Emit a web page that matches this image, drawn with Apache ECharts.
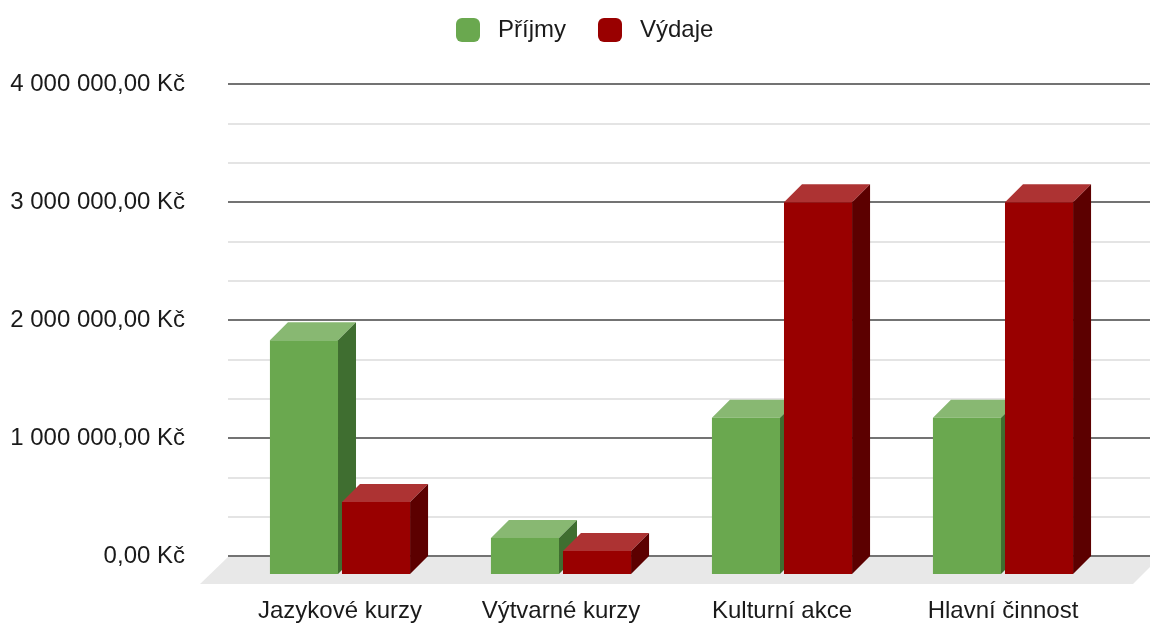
<!DOCTYPE html>
<html>
<head>
<meta charset="utf-8">
<script src="https://cdn.jsdelivr.net/npm/echarts@6/dist/echarts.min.js"></script>
<style>
  html, body { margin: 0; padding: 0; background: #fff; }
  #chart { width: 1150px; height: 624px; }
</style>
</head>
<body>
<div id="chart"></div>
<script>
// data
var categories = ['Jazykové kurzy', 'Výtvarné kurzy', 'Kulturní akce', 'Hlavní činnost'];
var prijmy = [1980000, 305000, 1325000, 1325000];
var vydaje = [610000, 195000, 3150000, 3150000];
var seriesNames = ['Příjmy', 'Výdaje'];

var FONT = '"Liberation Sans", Arial, sans-serif';
var DEPTH = 18; // 3d offset in px

// colours: front, top, side
var palette = [
  { front: '#6aa84f', top: '#88b872', side: '#3f6e30' },
  { front: '#990000', top: '#ad3333', side: '#5c0000' }
];

function fmtKc(v) {
  var s = Math.round(v).toString().replace(/\B(?=(\d{3})+(?!\d))/g, ' ');
  return s + ',00 Kč';
}

function makeRender(si) {
  return function (params, api) {
    var idx = api.value(0);
    var val = api.value(1);
    var top = api.coord([idx, val]);
    var base = api.coord([idx, 0]);
    var band = api.size([1, 0])[0];
    var w = band * 0.308;
    var gap = band * 0.018;
    var x0 = si === 0 ? top[0] - gap / 2 - w : top[0] + gap / 2;
    var x1 = x0 + w;
    var yT = top[1], yB = base[1], d = DEPTH;
    var c = palette[si];
    return {
      type: 'group',
      children: [
        { type: 'polygon', shape: { points: [[x0, yT], [x1, yT], [x1 + d, yT - d], [x0 + d, yT - d]] },
          style: { fill: c.top } },
        { type: 'polygon', shape: { points: [[x1, yT], [x1 + d, yT - d], [x1 + d, yB - d], [x1, yB]] },
          style: { fill: c.side } },
        { type: 'rect', shape: { x: x0, y: yT, width: w, height: yB - yT },
          style: { fill: c.front } }
      ]
    };
  };
}

function pairs(arr) {
  var out = [];
  for (var i = 0; i < arr.length; i++) out.push([i, arr[i]]);
  return out;
}

var chart = echarts.init(document.getElementById('chart'));

// back wall (gridlines) and front plane (bars) layout
var backTop = 84, backBottom = 556;
var floorTop = 557, floorBottom = 584;

var option = {
  animation: false,
  textStyle: { fontFamily: FONT },
  legend: {
    top: 13,
    left: 451,
    itemWidth: 24,
    itemHeight: 24,
    itemGap: 32,
    icon: 'roundRect',
    textStyle: { fontSize: 24, color: '#1a1a1a', fontFamily: FONT, padding: [0, 0, 0, 13] },
    data: seriesNames
  },
  graphic: [{
    type: 'polygon',
    z: -10,
    silent: true,
    shape: { points: [[228, floorTop], [1160, floorTop], [1133, floorBottom], [200, floorBottom]] },
    style: { fill: '#e8e8e8' }
  }],
  grid: [
    { left: 228, right: 0, top: backTop, bottom: 624 - backBottom },
    { left: 229.5, right: 36.5, top: backTop + DEPTH, bottom: 624 - backBottom - DEPTH }
  ],
  xAxis: [
    { gridIndex: 0, type: 'value', show: false, min: 0, max: 1 },
    {
      gridIndex: 1, type: 'category', data: categories,
      axisLine: { show: false }, axisTick: { show: false },
      axisLabel: { fontSize: 24, color: '#1a1a1a', margin: 25, fontFamily: FONT }
    }
  ],
  yAxis: [
    {
      gridIndex: 0, type: 'value', min: 0, max: 4000000, interval: 1000000,
      axisLine: { show: false }, axisTick: { show: false },
      axisLabel: { fontSize: 24, color: '#1a1a1a', margin: 43, fontFamily: FONT, formatter: fmtKc },
      splitLine: { show: true, lineStyle: { color: '#444', width: 1.5 } },
      minorTick: { show: false, splitNumber: 3 },
      minorSplitLine: { show: true, lineStyle: { color: '#dcdcdc', width: 1.5 } }
    },
    {
      gridIndex: 1, type: 'value', min: 0, max: 4000000, show: false,
      splitLine: { show: false }
    }
  ],
  series: [
    {
      name: seriesNames[0], type: 'custom', xAxisIndex: 1, yAxisIndex: 1,
      itemStyle: { color: palette[0].front },
      renderItem: makeRender(0),
      encode: { x: 0, y: 1 },
      data: pairs(prijmy)
    },
    {
      name: seriesNames[1], type: 'custom', xAxisIndex: 1, yAxisIndex: 1,
      itemStyle: { color: palette[1].front },
      renderItem: makeRender(1),
      encode: { x: 0, y: 1 },
      data: pairs(vydaje)
    }
  ]
};

chart.setOption(option);
</script>
</body>
</html>
